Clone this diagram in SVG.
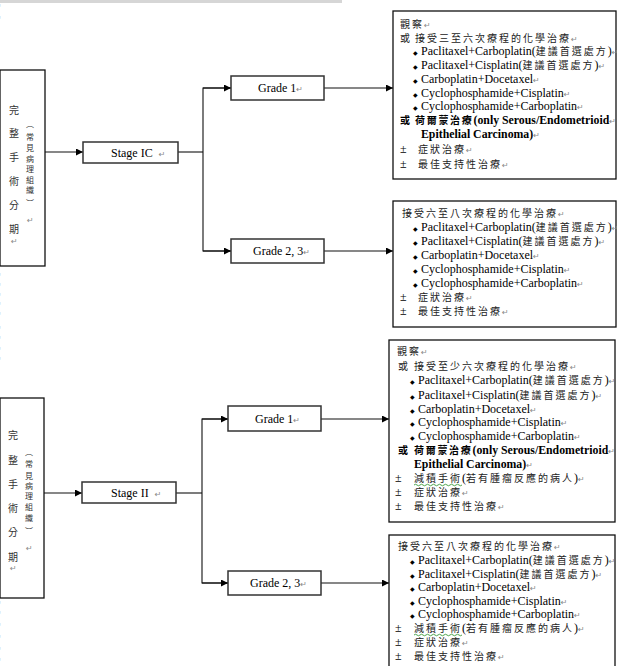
<svg xmlns="http://www.w3.org/2000/svg" width="617" height="666" viewBox="0 0 617 666">
  <style>
    .frame { fill: #fff; stroke: #111; stroke-width: 1.3; }
    .node { fill: #fff; stroke: #333; stroke-width: 1.5; }
    .wire { fill: none; stroke: #111; stroke-width: 1.1; }
    .l { font-family: "Liberation Serif", "Times New Roman", serif; font-size: 12px; fill: #000; }
    .lb { font-family: "Liberation Serif", "Times New Roman", serif; font-size: 11.8px; font-weight: bold; fill: #000; }
    .c { font-family: "Noto Sans CJK TC", "Noto Sans CJK SC", sans-serif; font-size: 10px; letter-spacing: 2px; fill: #222; }
    .cb { font-family: "Noto Sans CJK TC", "Noto Sans CJK SC", sans-serif; font-size: 10px; letter-spacing: 1.7px; font-weight: bold; fill: #000; }
    .v { font-family: "Noto Sans CJK TC", "Noto Sans CJK SC", sans-serif; font-size: 10px; fill: #333; text-anchor: middle; }
    .vs { font-family: "Noto Sans CJK TC", "Noto Sans CJK SC", sans-serif; font-size: 8px; fill: #333; text-anchor: middle; }
    .pm { font-family: "DejaVu Sans", sans-serif; font-size: 8px; fill: #888; }
    .dot { font-family: "DejaVu Sans", sans-serif; font-size: 6px; fill: #000; }
    .pmx { font-family: "DejaVu Sans", sans-serif; font-size: 8px; fill: #aaa; }
    .lab { font-family: "Liberation Serif", "Times New Roman", serif; font-size: 12px; fill: #000; }
    .squig { fill: none; stroke: #3a9a3a; stroke-width: 0.9; }
  </style>
  <defs>
    <marker id="arrow" markerWidth="8" markerHeight="7" refX="7" refY="3.5" orient="auto" markerUnits="userSpaceOnUse">
      <path d="M0,0 L7,3.5 L0,7 Z" fill="#000"/>
    </marker>
  </defs>

  <!-- page header strip -->
  <rect x="0" y="0" width="342" height="3" fill="#d6d6d6"/>

  <!-- stray paragraph marks along the left margin -->
  <g id="margin-marks">
    <text class="pmx" x="-5" y="9">↵</text>
    <text class="pmx" x="-5" y="21">↵</text>
    <text class="pmx" x="-5" y="278">↵</text>
    <text class="pmx" x="-5" y="288">↵</text>
    <text class="pmx" x="-5" y="298">↵</text>
    <text class="pmx" x="-5" y="307">↵</text>
    <text class="pmx" x="-5" y="317">↵</text>
    <text class="pmx" x="-5" y="331">↵</text>
    <text class="pmx" x="-5" y="341">↵</text>
    <text class="pmx" x="-5" y="352">↵</text>
    <text class="pmx" x="-5" y="362">↵</text>
    <text class="pmx" x="-5" y="606">↵</text>
    <text class="pmx" x="-5" y="616">↵</text>
    <text class="pmx" x="-5" y="628">↵</text>
    <text class="pmx" x="-5" y="640">↵</text>
    <text class="pmx" x="-5" y="652">↵</text>
    <text class="pmx" x="-5" y="663">↵</text>
  </g>

  <!-- connectors -->
  <g id="connectors">
    <line class="wire" x1="45" y1="152" x2="83" y2="152" marker-end="url(#arrow)"/>
    <polyline class="wire" points="178,152 203,152"/>
    <polyline class="wire" points="231,88 203,88 203,251 231,251"/>
    <line class="wire" x1="203" y1="88" x2="231" y2="88" marker-end="url(#arrow)"/>
    <line class="wire" x1="203" y1="251" x2="231" y2="251" marker-end="url(#arrow)"/>
    <line class="wire" x1="324" y1="88" x2="393" y2="88" marker-end="url(#arrow)"/>
    <line class="wire" x1="324" y1="251" x2="393" y2="251" marker-end="url(#arrow)"/>

    <line class="wire" x1="44" y1="493" x2="82" y2="493" marker-end="url(#arrow)"/>
    <polyline class="wire" points="176,493 202,493"/>
    <polyline class="wire" points="228,419 202,419 202,583 228,583"/>
    <line class="wire" x1="202" y1="419" x2="228" y2="419" marker-end="url(#arrow)"/>
    <line class="wire" x1="202" y1="583" x2="228" y2="583" marker-end="url(#arrow)"/>
    <line class="wire" x1="321" y1="419" x2="389" y2="419" marker-end="url(#arrow)"/>
    <line class="wire" x1="321" y1="583" x2="389" y2="583" marker-end="url(#arrow)"/>
  </g>

  <!-- upper branch -->
  <g id="staging-1">
    <rect class="frame" x="0" y="70" width="45" height="196"/>
    <text class="v" x="14" y="114">完</text>
    <text class="v" x="14" y="137">整</text>
    <text class="v" x="14" y="161">手</text>
    <text class="v" x="14" y="185">術</text>
    <text class="v" x="14" y="209">分</text>
    <text class="v" x="14" y="233">期</text>
    <text class="pm" x="11" y="244">↵</text>
    <text class="vs" x="30" y="127">︵</text>
    <text class="vs" x="30" y="140">常</text>
    <text class="vs" x="30" y="151">見</text>
    <text class="vs" x="30" y="162">病</text>
    <text class="vs" x="30" y="172">理</text>
    <text class="vs" x="30" y="183">組</text>
    <text class="vs" x="30" y="193">織</text>
    <text class="vs" x="30" y="206">︶</text>
    <text class="pm" x="27" y="223">↵</text>
  </g>

  <g id="stage-ic">
    <rect class="node" x="83" y="142" width="95" height="21"/>
    <text class="lab" x="111" y="157">Stage IC <tspan class="pm" dx="3">↵</tspan></text>
  </g>

  <g id="grade-1-ic">
    <rect class="node" x="231" y="76" width="93" height="24"/>
    <text class="lab" x="258" y="92">Grade 1<tspan class="pm">↵</tspan></text>
  </g>

  <g id="grade-23-ic">
    <rect class="node" x="231" y="239" width="93" height="24"/>
    <text class="lab" x="253" y="255">Grade 2, 3<tspan class="pm">↵</tspan></text>
  </g>

  <g id="plan-ic-grade1">
    <rect class="frame" x="393" y="11" width="223" height="168"/>
    <text y="28"><tspan class="c" x="400">觀察</tspan><tspan class="pm">↵</tspan></text>
    <text y="42"><tspan class="c" x="400">或</tspan><tspan class="c" x="415">接受三至六次療程的化學治療</tspan><tspan class="pm">↵</tspan></text>
    <text y="55"><tspan class="dot" x="413">◆</tspan><tspan class="l" x="421">Paclitaxel+Carboplatin</tspan><tspan class="l">(</tspan><tspan class="c">建議首選處方</tspan><tspan class="l">)</tspan><tspan class="pm">↵</tspan></text>
    <text y="69"><tspan class="dot" x="413">◆</tspan><tspan class="l" x="421">Paclitaxel+Cisplatin</tspan><tspan class="l">(</tspan><tspan class="c">建議首選處方</tspan><tspan class="l">)</tspan><tspan class="pm">↵</tspan></text>
    <text y="83"><tspan class="dot" x="413">◆</tspan><tspan class="l" x="421">Carboplatin+Docetaxel</tspan><tspan class="pm">↵</tspan></text>
    <text y="97"><tspan class="dot" x="413">◆</tspan><tspan class="l" x="421">Cyclophosphamide+Cisplatin</tspan><tspan class="pm">↵</tspan></text>
    <text y="110"><tspan class="dot" x="413">◆</tspan><tspan class="l" x="421">Cyclophosphamide+Carboplatin</tspan><tspan class="pm">↵</tspan></text>
    <text y="124"><tspan class="cb" x="400">或</tspan><tspan class="cb" x="415">荷爾蒙治療</tspan><tspan class="lb">(only Serous/Endometrioid</tspan><tspan class="pm">↵</tspan></text>
    <text y="138"><tspan class="lb" x="421">Epithelial Carcinoma)</tspan><tspan class="pm">↵</tspan></text>
    <text y="153"><tspan class="l" x="400">±</tspan><tspan class="c" x="418">症狀治療</tspan><tspan class="pm">↵</tspan></text>
    <text y="168"><tspan class="l" x="400">±</tspan><tspan class="c" x="418">最佳支持性治療</tspan><tspan class="pm">↵</tspan></text>
  </g>

  <g id="plan-ic-grade23">
    <rect class="frame" x="393" y="201" width="223" height="126"/>
    <text y="217"><tspan class="c" x="402">接受六至八次療程的化學治療</tspan><tspan class="pm">↵</tspan></text>
    <text y="231"><tspan class="dot" x="413">◆</tspan><tspan class="l" x="421">Paclitaxel+Carboplatin</tspan><tspan class="l">(</tspan><tspan class="c">建議首選處方</tspan><tspan class="l">)</tspan><tspan class="pm">↵</tspan></text>
    <text y="245"><tspan class="dot" x="413">◆</tspan><tspan class="l" x="421">Paclitaxel+Cisplatin</tspan><tspan class="l">(</tspan><tspan class="c">建議首選處方</tspan><tspan class="l">)</tspan><tspan class="pm">↵</tspan></text>
    <text y="259"><tspan class="dot" x="413">◆</tspan><tspan class="l" x="421">Carboplatin+Docetaxel</tspan><tspan class="pm">↵</tspan></text>
    <text y="273"><tspan class="dot" x="413">◆</tspan><tspan class="l" x="421">Cyclophosphamide+Cisplatin</tspan><tspan class="pm">↵</tspan></text>
    <text y="287"><tspan class="dot" x="413">◆</tspan><tspan class="l" x="421">Cyclophosphamide+Carboplatin</tspan><tspan class="pm">↵</tspan></text>
    <text y="301"><tspan class="l" x="400">±</tspan><tspan class="c" x="418">症狀治療</tspan><tspan class="pm">↵</tspan></text>
    <text y="315"><tspan class="l" x="400">±</tspan><tspan class="c" x="418">最佳支持性治療</tspan><tspan class="pm">↵</tspan></text>
  </g>

  <!-- lower branch -->
  <g id="staging-2">
    <rect class="frame" x="0" y="398" width="44" height="200"/>
    <text class="v" x="13" y="439">完</text>
    <text class="v" x="13" y="464">整</text>
    <text class="v" x="13" y="488">手</text>
    <text class="v" x="13" y="512">術</text>
    <text class="v" x="13" y="536">分</text>
    <text class="v" x="13" y="561">期</text>
    <text class="pm" x="10" y="571">↵</text>
    <text class="vs" x="29" y="455">︵</text>
    <text class="vs" x="29" y="467">常</text>
    <text class="vs" x="29" y="479">見</text>
    <text class="vs" x="29" y="489">病</text>
    <text class="vs" x="29" y="499">理</text>
    <text class="vs" x="29" y="510">組</text>
    <text class="vs" x="29" y="521">織</text>
    <text class="vs" x="29" y="534">︶</text>
    <text class="pm" x="26" y="551">↵</text>
  </g>

  <g id="stage-ii">
    <rect class="node" x="82" y="482" width="94" height="21"/>
    <text class="lab" x="111" y="497">Stage II <tspan class="pm" dx="3">↵</tspan></text>
  </g>

  <g id="grade-1-ii">
    <rect class="node" x="228" y="406" width="93" height="25"/>
    <text class="lab" x="255" y="423">Grade 1<tspan class="pm">↵</tspan></text>
  </g>

  <g id="grade-23-ii">
    <rect class="node" x="228" y="571" width="93" height="24"/>
    <text class="lab" x="250" y="587">Grade 2, 3<tspan class="pm">↵</tspan></text>
  </g>

  <g id="plan-ii-grade1">
    <rect class="frame" x="389" y="340" width="226" height="182"/>
    <text y="355"><tspan class="c" x="397">觀察</tspan><tspan class="pm">↵</tspan></text>
    <text y="370"><tspan class="c" x="398">或</tspan><tspan class="c" x="414">接受至少六次療程的化學治療</tspan><tspan class="pm">↵</tspan></text>
    <text y="384"><tspan class="dot" x="410">◆</tspan><tspan class="l" x="418">Paclitaxel+Carboplatin</tspan><tspan class="l">(</tspan><tspan class="c">建議首選處方</tspan><tspan class="l">)</tspan><tspan class="pm">↵</tspan></text>
    <text y="399"><tspan class="dot" x="410">◆</tspan><tspan class="l" x="418">Paclitaxel+Cisplatin</tspan><tspan class="l">(</tspan><tspan class="c">建議首選處方</tspan><tspan class="l">)</tspan><tspan class="pm">↵</tspan></text>
    <text y="413"><tspan class="dot" x="410">◆</tspan><tspan class="l" x="418">Carboplatin+Docetaxel</tspan><tspan class="pm">↵</tspan></text>
    <text y="426"><tspan class="dot" x="410">◆</tspan><tspan class="l" x="418">Cyclophosphamide+Cisplatin</tspan><tspan class="pm">↵</tspan></text>
    <text y="440"><tspan class="dot" x="410">◆</tspan><tspan class="l" x="418">Cyclophosphamide+Carboplatin</tspan><tspan class="pm">↵</tspan></text>
    <text y="454"><tspan class="cb" x="398">或</tspan><tspan class="cb" x="414">荷爾蒙治療</tspan><tspan class="lb">(only Serous/Endometrioid</tspan><tspan class="pm">↵</tspan></text>
    <text y="468"><tspan class="lb" x="414">Epithelial Carcinoma)</tspan><tspan class="pm">↵</tspan></text>
    <text y="482"><tspan class="l" x="395">±</tspan><tspan class="c" x="414">減積手術</tspan><tspan class="l">(</tspan><tspan class="c">若有腫瘤反應的病人</tspan><tspan class="l">)</tspan><tspan class="pm">↵</tspan></text>
    <path class="squig" d="M414,485 q1.5,-1.5 3,0 t3,0 t3,0 t3,0 t3,0 t3,0 t3,0 t3,0 t3,0 t3,0 t3,0 t3,0 t3,0 t3,0 t3,0 t3,0"/>
    <text y="496"><tspan class="l" x="395">±</tspan><tspan class="c" x="414">症狀治療</tspan><tspan class="pm">↵</tspan></text>
    <text y="510"><tspan class="l" x="395">±</tspan><tspan class="c" x="414">最佳支持性治療</tspan><tspan class="pm">↵</tspan></text>
  </g>

  <g id="plan-ii-grade23">
    <rect class="frame" x="389" y="535" width="226" height="140"/>
    <text y="550"><tspan class="c" x="398">接受六至八次療程的化學治療</tspan><tspan class="pm">↵</tspan></text>
    <text y="564"><tspan class="dot" x="410">◆</tspan><tspan class="l" x="418">Paclitaxel+Carboplatin</tspan><tspan class="l">(</tspan><tspan class="c">建議首選處方</tspan><tspan class="l">)</tspan><tspan class="pm">↵</tspan></text>
    <text y="578"><tspan class="dot" x="410">◆</tspan><tspan class="l" x="418">Paclitaxel+Cisplatin</tspan><tspan class="l">(</tspan><tspan class="c">建議首選處方</tspan><tspan class="l">)</tspan><tspan class="pm">↵</tspan></text>
    <text y="591"><tspan class="dot" x="410">◆</tspan><tspan class="l" x="418">Carboplatin+Docetaxel</tspan><tspan class="pm">↵</tspan></text>
    <text y="605"><tspan class="dot" x="410">◆</tspan><tspan class="l" x="418">Cyclophosphamide+Cisplatin</tspan><tspan class="pm">↵</tspan></text>
    <text y="618"><tspan class="dot" x="410">◆</tspan><tspan class="l" x="418">Cyclophosphamide+Carboplatin</tspan><tspan class="pm">↵</tspan></text>
    <text y="632"><tspan class="l" x="395">±</tspan><tspan class="c" x="414">減積手術</tspan><tspan class="l">(</tspan><tspan class="c">若有腫瘤反應的病人</tspan><tspan class="l">)</tspan><tspan class="pm">↵</tspan></text>
    <path class="squig" d="M414,635 q1.5,-1.5 3,0 t3,0 t3,0 t3,0 t3,0 t3,0 t3,0 t3,0 t3,0 t3,0 t3,0 t3,0 t3,0 t3,0 t3,0 t3,0"/>
    <text y="646"><tspan class="l" x="395">±</tspan><tspan class="c" x="414">症狀治療</tspan><tspan class="pm">↵</tspan></text>
    <text y="660"><tspan class="l" x="395">±</tspan><tspan class="c" x="414">最佳支持性治療</tspan><tspan class="pm">↵</tspan></text>
  </g>
</svg>
